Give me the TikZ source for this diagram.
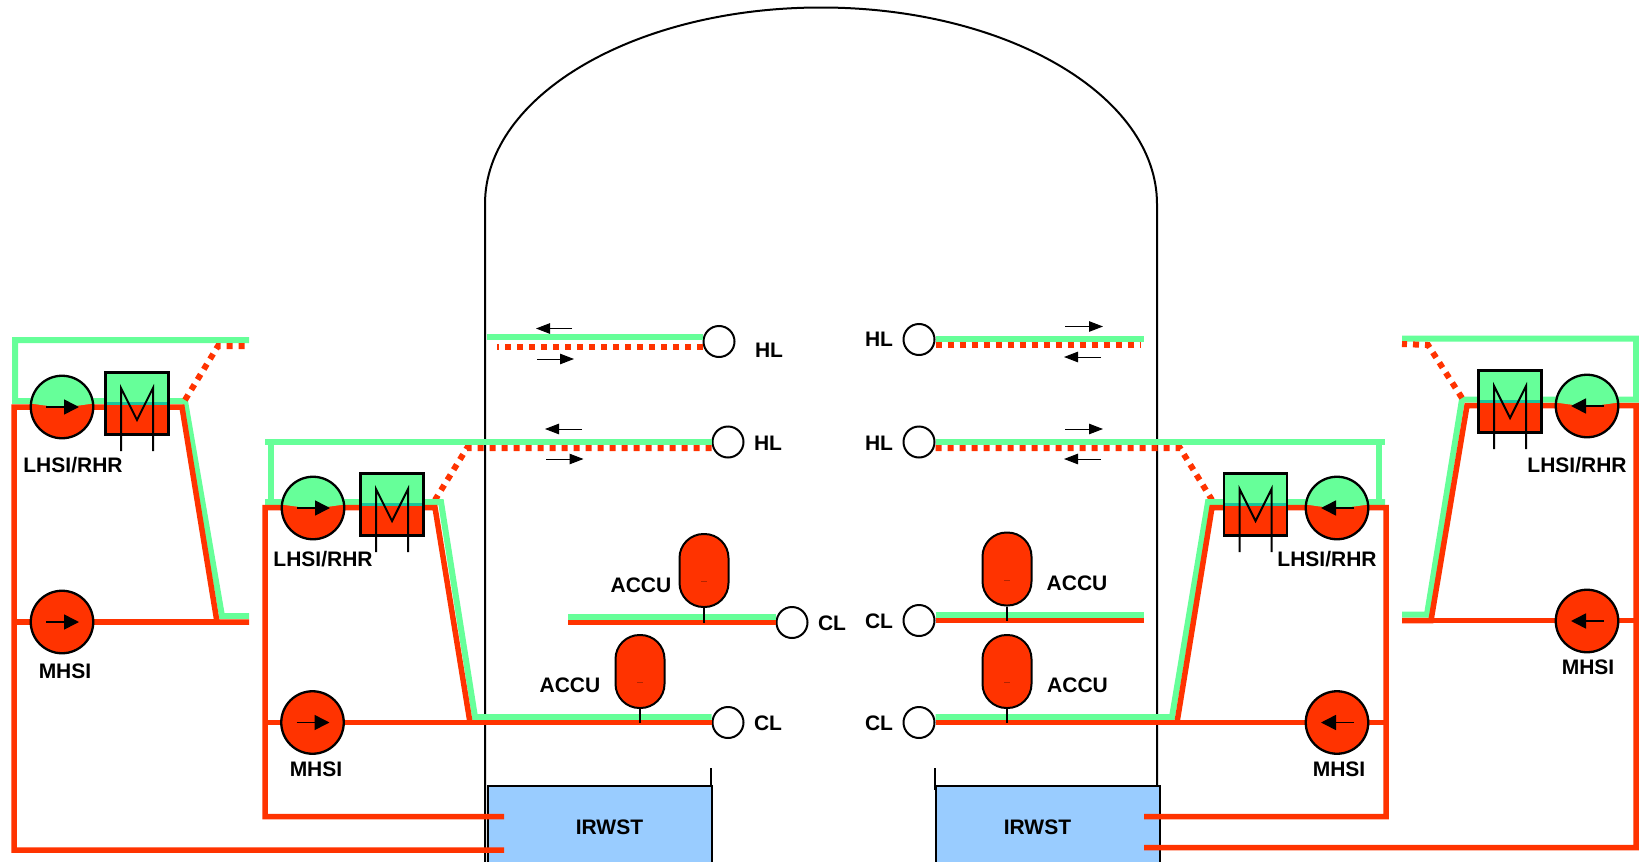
\documentclass[tikz,border=0pt]{standalone}
\usepackage{fontspec}
\setmainfont{Liberation Sans}
\usetikzlibrary{arrows.meta}
\definecolor{pipegreen}{HTML}{66FF99}
\definecolor{pipered}{HTML}{FF3300}
\definecolor{tankblue}{HTML}{99CCFF}
\definecolor{bandteal}{HTML}{19C49A}
\tikzset{
  x=1pt,y=-1pt,
  greenpipe/.style={draw=pipegreen,line width=6pt,line join=miter},
  redpipe/.style={draw=pipered,line width=5.5pt,line join=miter},
  dashpipe/.style={draw=pipered,line width=6pt,dash pattern=on 6pt off 6pt},
  wall/.style={draw=black,line width=2pt},
  pumparrow/.style={draw=black,line width=1.6pt,-{Triangle[length=15pt,width=15pt]}},
  flowarrow/.style={draw=black,line width=1pt,-{Triangle[length=14pt,width=10.5pt]}},
  pumpbase/.style={circle,draw=black,line width=2.3pt,minimum size=62.5pt,inner sep=0pt,fill=pipered},
  pumpsplit/.style={pumpbase,path picture={
    \fill[pipegreen] (path picture bounding box.north west) -- (path picture bounding box.north east)
      -- ([yshift=3.5pt]path picture bounding box.east)
      .. controls ([yshift=-1pt]path picture bounding box.center) .. ([yshift=3.5pt]path picture bounding box.west) -- cycle;}},
  hxbox/.style={rectangle,draw=black,line width=2.2pt,minimum width=63pt,minimum height=62pt,inner sep=0pt,fill=pipered,path picture={
    \fill[pipegreen] (path picture bounding box.north west) rectangle (path picture bounding box.east);
    \fill[bandteal] ([yshift=1.2pt]path picture bounding box.west) rectangle ([yshift=-1pt]path picture bounding box.east);}},
  mline/.style={draw=black,line width=2pt},
  loopnode/.style={circle,draw=black,line width=2pt,fill=white,minimum size=31pt,inner sep=0pt},
  accubox/.style={rectangle,rounded corners=24pt,draw=black,line width=2pt,fill=pipered,minimum width=49pt,minimum height=73pt,inner sep=0pt},
  tankbox/.style={rectangle,draw=black,line width=2pt,fill=tankblue,minimum width=224pt,minimum height=120pt,inner sep=0pt},
  lab/.style={inner sep=0pt,font=\fontsize{21}{24}\selectfont\bfseries},
}
\newcommand{\hxunit}[3]{%
  \node[hxbox] (#1) at (#2,#3) {};
  \draw[mline] (#1.center) ++(-16,47.5) -- ++(0,-63) -- ++(16,32) -- ++(16,-32) -- ++(0,63);
}
\newcommand{\accuunit}[3]{%
  \node[accubox] (#1) at (#2,#3) {};
  \draw[draw=pipered!70!black,line width=.6pt] ([xshift=-3pt,yshift=-11pt]#1.center) -- ([xshift=3pt,yshift=-11pt]#1.center);
}
\begin{document}
\begin{tikzpicture}
\useasboundingbox (0,0) rectangle (1639,862);
\clip (0,0) rectangle (1639,862);
% containment
\coordinate (wallLb) at (485,862);
\coordinate (wallLt) at (485,204);
\coordinate (wallRt) at (1157,204);
\coordinate (wallRb) at (1157,862);
\draw[wall] (wallLb) -- (wallLt) arc[start angle=180,end angle=360,x radius=336,y radius=196.5] -- (wallRb);
% tanks
\draw[wall,line width=1.5pt] (711,768) -- (711,790);
\draw[wall,line width=1.5pt] (935,768) -- (935,790);
\node[tankbox,anchor=north west] (tankL) at (486.5,785) {};
\node[tankbox,anchor=north west] (tankR) at (934.7,785) {};
\node[lab] (tankLlab) at (609.5,827) {IRWST};
\node[lab] (tankRlab) at (1037.5,827) {IRWST};
% loop nodes
\node[loopnode] (hlA) at (719,341.5) {};
\node[loopnode] (hlB) at (728,442) {};
\node[loopnode] (hlC) at (919,442) {};
\node[loopnode] (hlD) at (919,339.5) {};
\node[loopnode] (clA) at (792,622.5) {};
\node[loopnode] (clB) at (728,722.5) {};
\node[loopnode] (clC) at (919,722.5) {};
\node[loopnode] (clD) at (919,620.5) {};
% pipe coordinates: unit A
\coordinate (a1) at (249,340); \coordinate (a2) at (15,340); \coordinate (a3) at (15,401);
\coordinate (a4) at (185,401); \coordinate (a5) at (222,616); \coordinate (a6) at (249,616);
\coordinate (a7) at (14,850); \coordinate (a8) at (14,407); \coordinate (a9) at (182,407);
\coordinate (a10) at (217,622); \coordinate (a11) at (249,622); \coordinate (a12) at (14,622);
\coordinate (a13) at (504,850); \coordinate (a14) at (185,400); \coordinate (a15) at (218,346); \coordinate (a16) at (249,346);
% unit B
\coordinate (b2) at (271,442); \coordinate (b1) at (265,442); \coordinate (b3) at (271,502);
\coordinate (b4) at (265,502); \coordinate (b5) at (441,502); \coordinate (b6) at (475,717);
\coordinate (b7) at (265,507.5); \coordinate (b8) at (435,507.5); \coordinate (b9) at (470,722.5);
\coordinate (b10) at (265,722.5); \coordinate (b11) at (265,816.5); \coordinate (b12) at (504,816.5);
\coordinate (b13) at (435,500); \coordinate (b14) at (467,448); \coordinate (b15) at (483,448);
% unit C
\coordinate (c1) at (1385,442); \coordinate (c2) at (1379,442); \coordinate (c3) at (1379,502);
\coordinate (c4) at (1385,502); \coordinate (c5) at (1208,502); \coordinate (c6) at (1172,717);
\coordinate (c7) at (1386,507.5); \coordinate (c8) at (1212,507.5); \coordinate (c9) at (1177,722.5);
\coordinate (c10) at (1386,722.5); \coordinate (c11) at (1386,816.5); \coordinate (c12) at (1144,816.5);
\coordinate (c13) at (1212,500); \coordinate (c14) at (1180,448);
% unit D
\coordinate (d1) at (1402,338.5); \coordinate (d2) at (1636,338.5); \coordinate (d3) at (1636,399.5);
\coordinate (d4) at (1462,399.5); \coordinate (d5) at (1427,614.5); \coordinate (d6) at (1402,614.5);
\coordinate (d7) at (1636,405.5); \coordinate (d8) at (1467,405.5); \coordinate (d9) at (1431,620.5);
\coordinate (d10) at (1402,620.5); \coordinate (d11) at (1636,620.5); \coordinate (d12) at (1636,847.5);
\coordinate (d13) at (1144,847.5); \coordinate (d14) at (1462,398); \coordinate (d15) at (1428,345); \coordinate (d16) at (1402,344);
% centre ends
\coordinate (eA) at (487,336.5); \coordinate (eAr) at (497,347);
\coordinate (eD) at (1144,339); \coordinate (eDr) at (1141,345);
\coordinate (eAc) at (568,617); \coordinate (eAd) at (568,622.5);
\coordinate (eDc) at (1144,614.5); \coordinate (eDd) at (1144,620.5);
% hot legs
\draw[greenpipe] (hlA.west |- eA) -- (eA);
\draw[dashpipe] (hlA.west |- eAr) -- (eAr);
\draw[greenpipe] (hlD.east |- eD) -- (eD);
\draw[dashpipe] (hlD.east |- eDr) -- (eDr);
\draw[greenpipe] (hlB.west) -- (b1);
\draw[dashpipe] (hlB.west |- b15) -- (b14) -- (b13);
\draw[greenpipe] (hlC.east) -- (c1);
\draw[greenpipe] (c2) -- (c3);
\draw[dashpipe] (hlC.east |- c14) -- (c14) -- (c13);
% cold legs
\draw[greenpipe] (clA.west |- eAc) -- (eAc);
\draw[redpipe] (clA.west) -- (eAd);
\draw[greenpipe] (clD.east |- eDc) -- (eDc);
\draw[redpipe] (clD.east) -- (eDd);
% unit A pipes
\draw[greenpipe] (a1) -- (a2) -- (a3) -- (a4) -- (a5) -- (a6);
\draw[dashpipe] (a14) -- (a15) -- (a16);
\draw[redpipe] (a13) -- (a7) -- (a8) -- (a9) -- (a10) -- (a11);
\draw[redpipe] (a12) -- (a10);
% unit B pipes
\draw[greenpipe] (b2) -- (b3);
\draw[greenpipe] (b4) -- (b5) -- (b6) -- (clB.west |- b6);
\draw[redpipe] (b12) -- (b11) -- (b7) -- (b8) -- (b9);
\draw[redpipe] (b10) -- (clB.west);
% unit C pipes
\draw[greenpipe] (c4) -- (c5) -- (c6) -- (clC.east |- c6);
\draw[redpipe] (c12) -- (c11) -- (c7) -- (c8) -- (c9);
\draw[redpipe] (c10) -- (clC.east);
% unit D pipes
\draw[greenpipe] (d1) -- (d2) -- (d3) -- (d4) -- (d5) -- (d6);
\draw[dashpipe] (d14) -- (d15) -- (d16);
\draw[redpipe] (d13) -- (d12) -- (d7) -- (d8) -- (d9) -- (d10);
\draw[redpipe] (d9) -- (d11);
% pumps
\node[pumpsplit] (lhA) at (62,407) {};
\node[pumpsplit] (lhB) at (313,508) {};
\node[pumpsplit] (lhC) at (1337,508) {};
\node[pumpsplit] (lhD) at (1587,406) {};
\node[pumpbase] (mhA) at (62,622) {};
\node[pumpbase] (mhB) at (312.5,722.5) {};
\node[pumpbase] (mhC) at (1337,722.5) {};
\node[pumpbase] (mhD) at (1587,621) {};
\foreach \p in {lhA,lhB,mhA,mhB}{\draw[pumparrow] ([xshift=-16pt]\p.center) -- ([xshift=17pt]\p.center);}
\foreach \p in {lhC,lhD,mhC,mhD}{\draw[pumparrow] ([xshift=17pt]\p.center) -- ([xshift=-16pt]\p.center);}
% heat exchangers
\hxunit{hxA}{137}{403.5}
\hxunit{hxB}{392}{504.5}
\hxunit{hxC}{1255.5}{504.5}
\hxunit{hxD}{1510}{401.5}
% accumulators
\accuunit{acA}{704}{570.5}
\accuunit{acB}{640}{671.5}
\accuunit{acC}{1007}{671.5}
\accuunit{acD}{1007}{569}
\draw[wall,line width=1.6pt] (acA.south) -- (acA.south |- clA);
\draw[wall,line width=1.6pt] (acB.south) -- (acB.south |- clB);
\draw[wall,line width=1.6pt] (acC.south) -- (acC.south |- clC);
\draw[wall,line width=1.6pt] (acD.south) -- (acD.south |- clD);
% flow arrows on hot legs
\coordinate (fa1) at (572,328.5); \coordinate (fa2) at (536,328.5);
\coordinate (fa3) at (537,359); \coordinate (fa4) at (574,359);
\coordinate (fa5) at (582,429); \coordinate (fa6) at (545,429);
\coordinate (fa7) at (546,459); \coordinate (fa8) at (583.5,459);
\coordinate (fa9) at (1065,326.5); \coordinate (fa10) at (1103,326.5);
\coordinate (fa11) at (1101,357); \coordinate (fa12) at (1064,357);
\coordinate (fa13) at (1065,429); \coordinate (fa14) at (1103,429);
\coordinate (fa15) at (1101,459); \coordinate (fa16) at (1064,459);
\draw[flowarrow] (fa1) -- (fa2);
\draw[flowarrow] (fa3) -- (fa4);
\draw[flowarrow] (fa5) -- (fa6);
\draw[flowarrow] (fa7) -- (fa8);
\draw[flowarrow] (fa9) -- (fa10);
\draw[flowarrow] (fa11) -- (fa12);
\draw[flowarrow] (fa13) -- (fa14);
\draw[flowarrow] (fa15) -- (fa16);
% labels
\node[lab] (l1) at (73,465) {LHSI/RHR};
\node[lab] (l2) at (323,559) {LHSI/RHR};
\node[lab] (l3) at (1327,559) {LHSI/RHR};
\node[lab] (l4) at (1577,465) {LHSI/RHR};
\node[lab] (l5) at (65,671) {MHSI};
\node[lab] (l6) at (316,769) {MHSI};
\node[lab] (l7) at (1339,769) {MHSI};
\node[lab] (l8) at (1588,667) {MHSI};
\node[lab] (l9) at (769,350) {HL};
\node[lab] (l10) at (768,443) {HL};
\node[lab] (l11) at (879,339.5) {HL};
\node[lab] (l12) at (879,443) {HL};
\node[lab] (l13) at (832,623.5) {CL};
\node[lab] (l14) at (768,723.5) {CL};
\node[lab] (l15) at (879,621.5) {CL};
\node[lab] (l16) at (879,723.5) {CL};
\node[lab] (l17) at (641,585.5) {ACCU};
\node[lab] (l18) at (570,685.5) {ACCU};
\node[lab] (l19) at (1077,583.5) {ACCU};
\node[lab] (l20) at (1077.5,685.5) {ACCU};
\end{tikzpicture}
\end{document}
